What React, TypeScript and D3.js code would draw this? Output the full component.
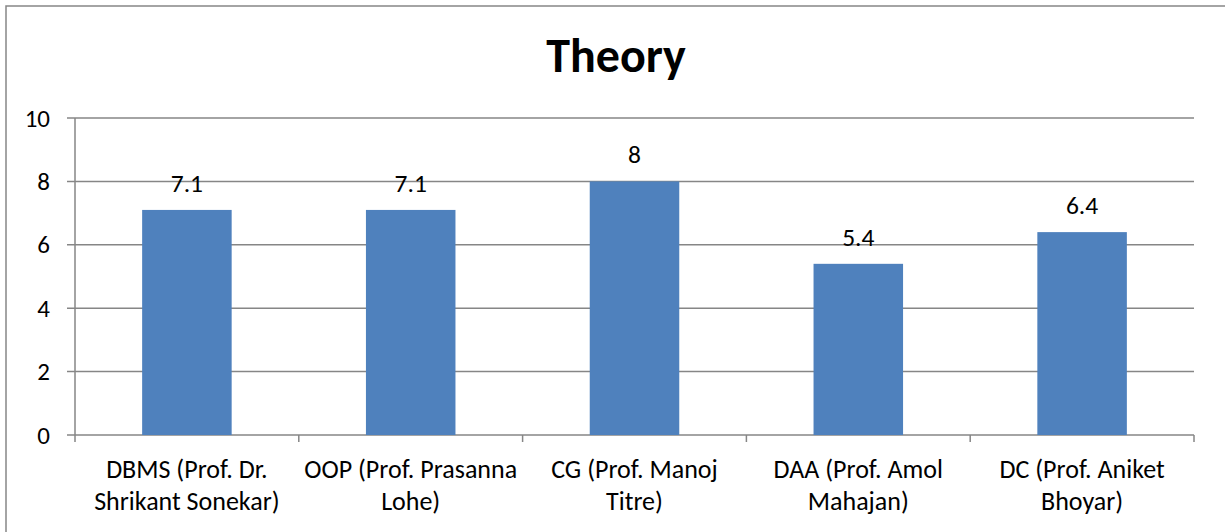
import React from "react";
import * as d3 from "d3";

const categories: string[][] = [
  ["DBMS (Prof. Dr.", "Shrikant Sonekar)"],
  ["OOP (Prof. Prasanna", "Lohe)"],
  ["CG (Prof. Manoj", "Titre)"],
  ["DAA (Prof. Amol", "Mahajan)"],
  ["DC (Prof. Aniket", "Bhoyar)"],
];
const values: number[] = [7.1, 7.1, 8, 5.4, 6.4];
const valueLabels: string[] = ["7.1", "7.1", "8", "5.4", "6.4"];
const yTicks: number[] = [0, 2, 4, 6, 8, 10];
const title = "Theory";

const W = 1225;
const H = 532;
const FONT = "Carlito, Calibri, Lato, 'Open Sans', sans-serif";

export default function App() {
  const left = 75, right = 1194, top = 118, bottom = 435;
  const x = d3
    .scaleBand<number>()
    .domain(d3.range(values.length))
    .range([left, right])
    .paddingInner(0.6)
    .paddingOuter(0.3);
  const y = d3.scaleLinear().domain([0, 10]).range([bottom, top]);
  const step = x.step();
  const grid = "#868686";

  return (
    <svg
      width={W}
      height={H}
      style={{ position: "absolute", left: 0, top: 0, background: "#fff" }}
      fontFamily={FONT}
    >
      <rect x={6} y={6} width={W + 10} height={H + 10} fill="#fff" stroke={grid} strokeWidth={1.5} />
      <text x={616} y={72} textAnchor="middle" fontSize={48} fontWeight="bold" fill="#000">
        {title}
      </text>
      {yTicks.map((t) => (
        <g key={t}>
          <line x1={67} x2={right} y1={y(t)} y2={y(t)} stroke={grid} strokeWidth={1.5} />
          <text x={50} y={y(t)} textAnchor="end" dominantBaseline="central" fontSize={25} fill="#000">
            {t}
          </text>
        </g>
      ))}
      <line x1={left} x2={left} y1={top} y2={bottom} stroke={grid} strokeWidth={1.5} />
      {d3.range(values.length + 1).map((i) => (
        <line
          key={i}
          x1={left + i * step}
          x2={left + i * step}
          y1={bottom}
          y2={bottom + 7}
          stroke={grid}
          strokeWidth={1.5}
        />
      ))}
      {values.map((v, i) => (
        <g key={i}>
          <rect
            x={x(i)!}
            y={y(v)}
            width={x.bandwidth()}
            height={y(0) - y(v)}
            fill="#4F81BD"
          />
          <text
            x={x(i)! + x.bandwidth() / 2}
            y={y(v) - 18}
            textAnchor="middle"
            fontSize={25.5}
            fill="#000"
          >
            {valueLabels[i]}
          </text>
          {categories[i].map((line, j) => (
            <text
              key={j}
              x={x(i)! + x.bandwidth() / 2}
              y={478 + j * 32}
              textAnchor="middle"
              fontSize={26}
              fill="#000"
            >
              {line}
            </text>
          ))}
        </g>
      ))}
    </svg>
  );
}
